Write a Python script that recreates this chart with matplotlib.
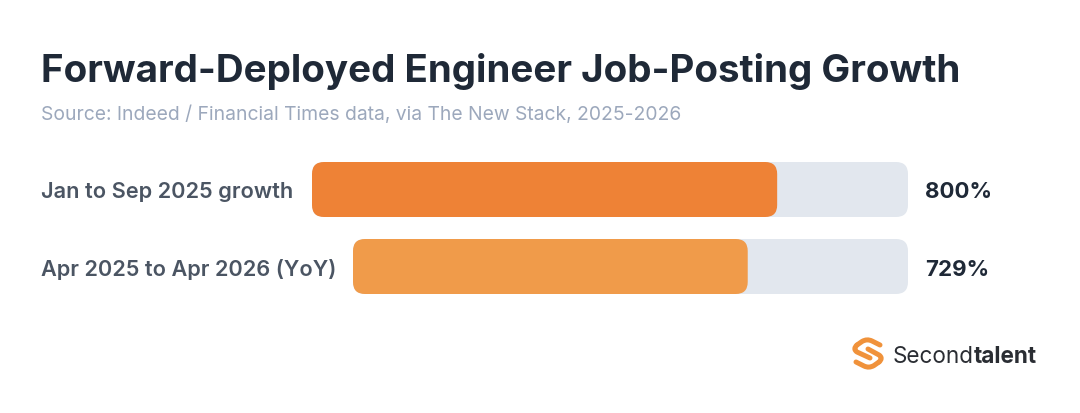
import matplotlib
matplotlib.use('Agg')
import matplotlib.pyplot as plt
from matplotlib.patches import FancyBboxPatch, PathPatch
from matplotlib.path import Path

title = 'Forward-Deployed Engineer Job-Posting Growth'
source = 'Source: Indeed / Financial Times data, via The New Stack, 2025-2026'
labels = ['Jan to Sep 2025 growth', 'Apr 2025 to Apr 2026 (YoY)']
values = [800, 729]
value_labels = ['800%', '729%']
scale_max = 1025

colours = ['#ee8236', '#f09b4a']
track_colour = '#e2e7ee'
dark = '#1f2937'
grey = '#4b5563'
muted = '#9ca8bc'

track_left = [312, 353]
track_right = 908
bar_top = [162, 239]
bar_height = 55
radius = 12

plt.rcParams['font.family'] = ['Inter', 'DejaVu Sans']

fig = plt.figure(figsize=(10.8, 4.13), dpi=100, facecolor='white')
ax = fig.add_axes([0, 0, 1, 1])
ax.set_xlim(0, 1080)
ax.set_ylim(413, 0)
ax.axis('off')


def rounded_bar(x, y, w, h, colour, z):
    patch = FancyBboxPatch((x + radius, y + radius), w - 2 * radius, h - 2 * radius,
                           boxstyle='round,pad=%d,rounding_size=%d' % (radius, radius),
                           fc=colour, ec='none', zorder=z)
    ax.add_patch(patch)


ax.text(41, 68, title, fontsize=27.75, fontweight='bold', color=dark, va='center_baseline')
ax.text(41, 112.5, source, fontsize=13.9, color=muted, va='center_baseline')

for i in range(len(values)):
    track_width = track_right - track_left[i]
    rounded_bar(track_left[i], bar_top[i], track_width, bar_height, track_colour, 1)
    rounded_bar(track_left[i], bar_top[i], track_width * values[i] / scale_max, bar_height, colours[i], 2)
    mid = bar_top[i] + bar_height / 2
    ax.text(41, mid + 1, labels[i], fontsize=15.65, fontweight='semibold', color=grey, va='center_baseline')
    ax.text(925, mid + 1, value_labels[i], fontsize=16, fontweight='bold', color=dark, va='center_baseline')

# logo mark, two curved strokes forming an S
curve = [Path.MOVETO, Path.LINETO, Path.CURVE3, Path.CURVE3, Path.LINETO]
upper = [(880, 345), (872, 341), (867, 338.5), (862, 341.5), (857, 345)]
upper_tail = [(857, 345), (852.5, 349), (857, 352), (870, 358)]
lower = [(856, 362), (864, 366), (869, 368.5), (874, 365.5), (879, 362)]
lower_tail = [(879, 362), (883.5, 358), (879, 355), (868, 349)]
tail_codes = [Path.MOVETO, Path.CURVE3, Path.CURVE3, Path.LINETO]
for pts, codes in ((upper, curve), (upper_tail, tail_codes), (lower, curve), (lower_tail, tail_codes)):
    ax.add_patch(PathPatch(Path(pts, codes), fc='none', ec='#f0923b', lw=3.6, capstyle='round', joinstyle='round'))

ax.text(892.5, 354.5, 'Second', fontsize=16.2, color='#2a2d33', va='center_baseline')
ax.text(973.5, 354.5, 'talent', fontsize=16.2, fontweight='bold', color='#2a2d33', va='center_baseline')

fig.savefig('out.png', dpi=100, facecolor='white')
